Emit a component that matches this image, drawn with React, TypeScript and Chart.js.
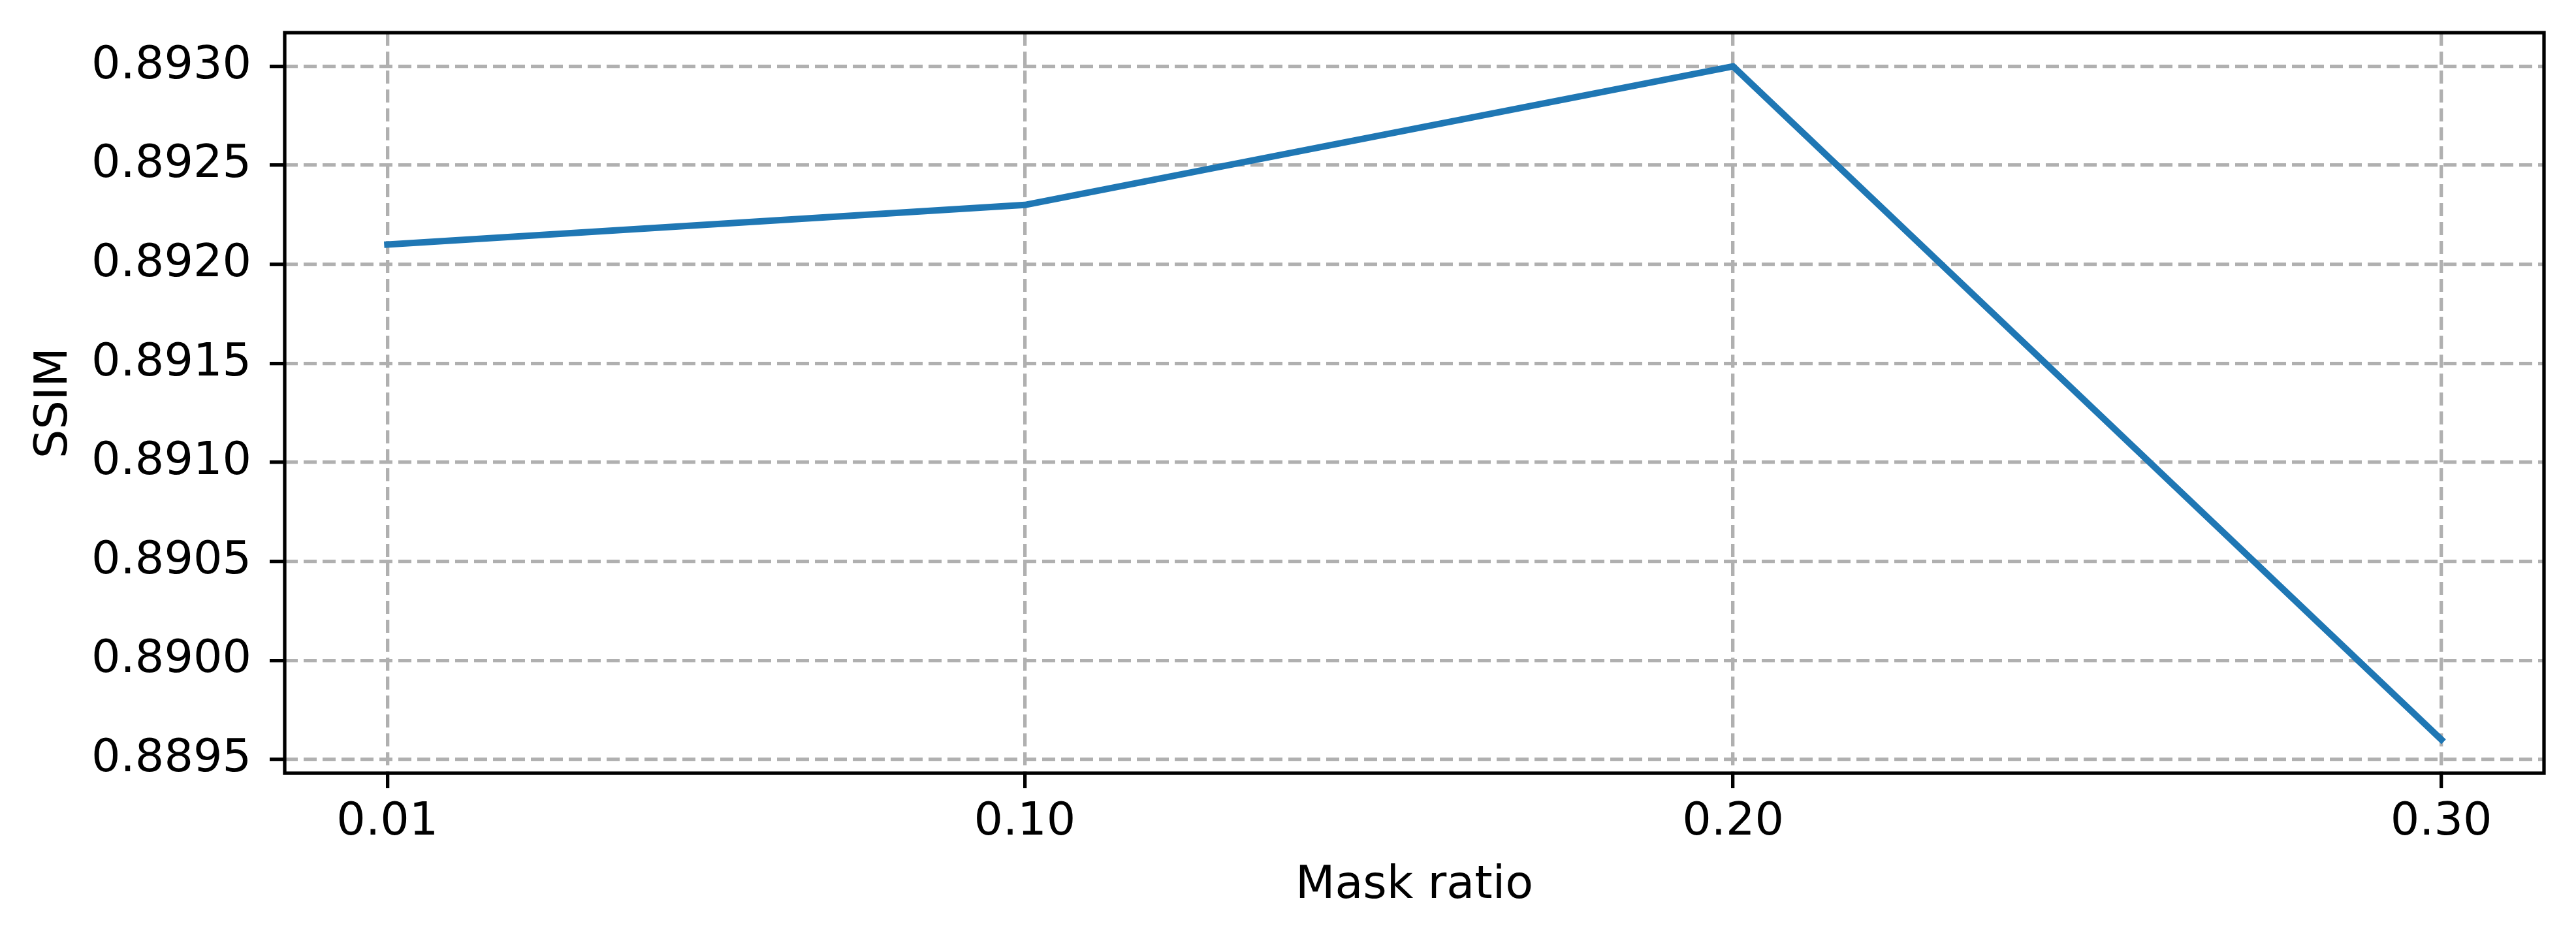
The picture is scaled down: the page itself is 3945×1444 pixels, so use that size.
import React, { useEffect, useRef } from 'react';
import { Chart, registerables } from 'chart.js';

Chart.register(...registerables);

// ---- data ----
const maskRatios = [0.01, 0.1, 0.2, 0.3];
const maskRatioLabels = ['0.01', '0.10', '0.20', '0.30'];
const ssimValues = [0.8921, 0.8923, 0.893, 0.8896];
const yTickValues = [0.8895, 0.89, 0.8905, 0.891, 0.8915, 0.892, 0.8925, 0.893];
const xAxisTitle = 'Mask ratio';
const yAxisTitle = 'SSIM';

const FONT = "'DejaVu Sans', 'Liberation Sans', sans-serif";
const FONT_SIZE = 70;

const boxPlugin = {
  id: 'axesBox',
  afterDraw(chart: any) {
    const { ctx, chartArea } = chart;
    ctx.save();
    ctx.strokeStyle = '#000';
    ctx.lineWidth = 5.3;
    ctx.lineJoin = 'miter';
    ctx.setLineDash([]);
    ctx.strokeRect(
      chartArea.left,
      chartArea.top,
      chartArea.right - chartArea.left,
      chartArea.bottom - chartArea.top
    );
    ctx.restore();
  },
};

export default function App() {
  const canvasRef = useRef<HTMLCanvasElement | null>(null);

  useEffect(() => {
    document.body.style.margin = '0';
    const canvas = canvasRef.current;
    if (!canvas) return;

    const yMinData = Math.min(...ssimValues);
    const yMaxData = Math.max(...ssimValues);
    const yMargin = (yMaxData - yMinData) * 0.05;
    const xMinData = Math.min(...maskRatios);
    const xMaxData = Math.max(...maskRatios);
    const xMargin = (xMaxData - xMinData) * 0.05;

    const gridCommon = {
      color: '#b0b0b0',
      lineWidth: 5.3,
      drawTicks: true,
      tickLength: 23,
      tickColor: '#000',
      tickWidth: 5.3,
      tickBorderDash: [],
    };

    const chart = new Chart(canvas, {
      type: 'line',
      data: {
        datasets: [
          {
            data: maskRatios.map((x, i) => ({ x, y: ssimValues[i] })),
            borderColor: '#1f77b4',
            backgroundColor: '#1f77b4',
            borderWidth: 10,
            pointRadius: 0,
            tension: 0,
            fill: false,
            borderCapStyle: 'square',
            borderJoinStyle: 'round',
          },
        ],
      },
      options: {
        animation: false,
        responsive: false,
        devicePixelRatio: 1,
        layout: { padding: { left: 0, top: 50, right: 49, bottom: 0 } },
        plugins: {
          legend: { display: false },
          tooltip: { enabled: false },
          title: { display: false },
        },
        scales: {
          x: {
            type: 'linear',
            bounds: 'data',
            min: xMinData - xMargin,
            max: xMaxData + xMargin,
            afterBuildTicks: (scale: any) => {
              scale.ticks = maskRatios.map((v) => ({ value: v }));
            },
            afterFit: (scale: any) => {
              scale.height = 260;
              scale.paddingLeft = 0;
              scale.paddingRight = 0;
            },
            ticks: {
              callback: (_v: any, i: number) => maskRatioLabels[i],
              font: { family: FONT, size: FONT_SIZE },
              color: '#000',
              padding: 11,
              maxRotation: 0,
              minRotation: 0,
              autoSkip: false,
              includeBounds: false,
            },
            grid: gridCommon,
            border: { display: false, dash: [20, 9] },
            title: {
              display: true,
              text: xAxisTitle,
              font: { family: FONT, size: FONT_SIZE },
              color: '#000',
              padding: { top: 0, bottom: 45 },
            },
          },
          y: {
            type: 'linear',
            bounds: 'data',
            min: yMinData - yMargin,
            max: yMaxData + yMargin,
            afterBuildTicks: (scale: any) => {
              scale.ticks = yTickValues.map((v) => ({ value: v }));
            },
            afterFit: (scale: any) => {
              scale.width = 436;
              scale.paddingTop = 0;
              scale.paddingBottom = 0;
            },
            ticks: {
              callback: (v: any) => Number(v).toFixed(4),
              font: { family: FONT, size: FONT_SIZE },
              color: '#000',
              padding: 28,
              autoSkip: false,
              includeBounds: false,
            },
            grid: gridCommon,
            border: { display: false, dash: [20, 9] },
            title: {
              display: true,
              text: yAxisTitle,
              font: { family: FONT, size: FONT_SIZE },
              color: '#000',
              padding: { top: 42, bottom: 0 },
            },
          },
        },
      } as any,
      plugins: [boxPlugin],
    });

    return () => {
      chart.destroy();
    };
  }, []);

  return (
    <div style={{ width: 3945, height: 1444, background: '#fff' }}>
      <canvas ref={canvasRef} width={3945} height={1444} style={{ display: 'block' }} />
    </div>
  );
}
